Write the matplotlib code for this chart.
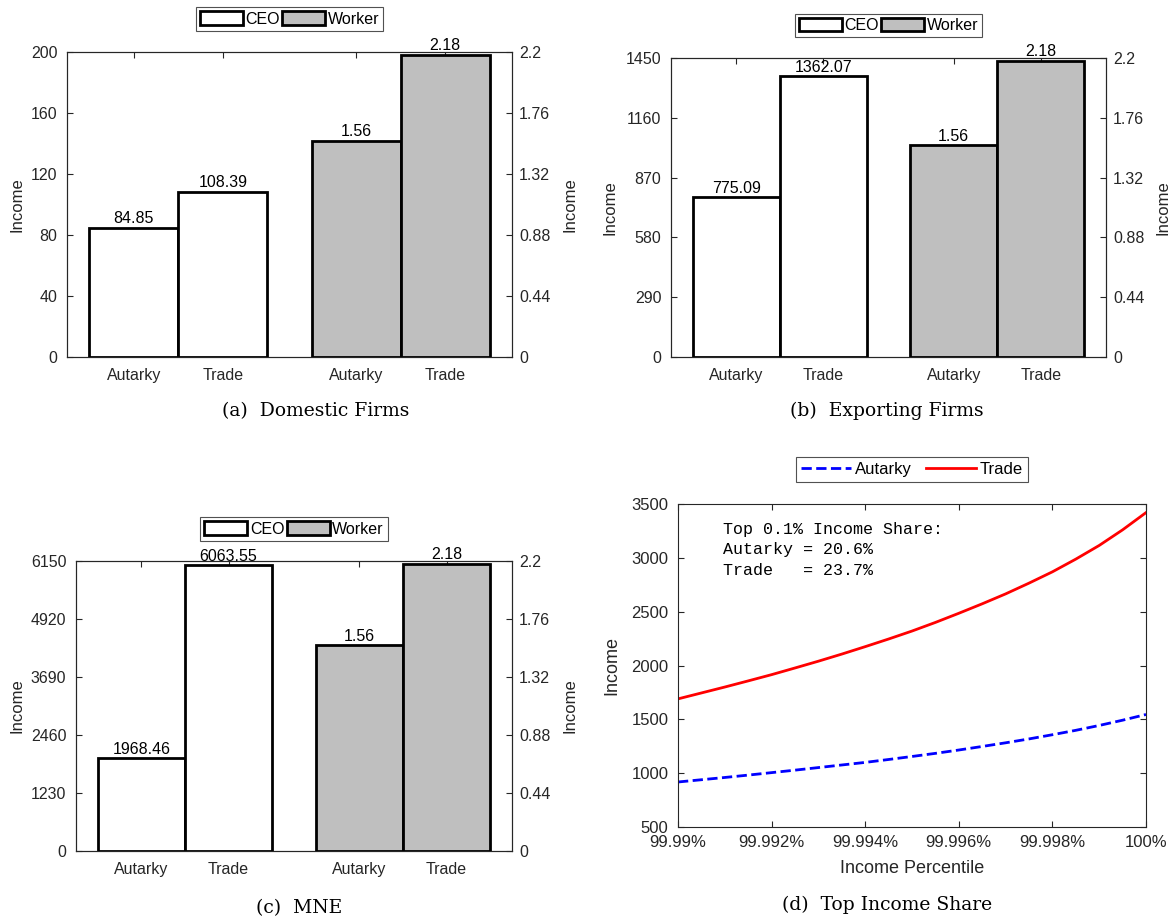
import matplotlib
matplotlib.use("Agg")
import matplotlib.pyplot as plt
from matplotlib.patches import Patch
from matplotlib.ticker import FormatStrFormatter

# ---- data -------------------------------------------------------------
scenarios = ["Autarky", "Trade"]
groups = ["CEO", "Worker"]

ceo_domestic = [84.85, 108.39]
ceo_exporting = [775.09, 1362.07]
ceo_mne = [1968.46, 6063.55]
worker_income = [1.56, 2.18]

ceo_ticks_domestic = [0, 40, 80, 120, 160, 200]
ceo_ticks_exporting = [0, 290, 580, 870, 1160, 1450]
ceo_ticks_mne = [0, 1230, 2460, 3690, 4920, 6150]
worker_ticks = [0, 0.44, 0.88, 1.32, 1.76, 2.2]

captions = ["(a)  Domestic Firms", "(b)  Exporting Firms", "(c)  MNE", "(d)  Top Income Share"]

percentile = [99.9900, 99.9905, 99.9910, 99.9915, 99.9920, 99.9925, 99.9930,
              99.9935, 99.9940, 99.9945, 99.9950, 99.9955, 99.9960, 99.9965,
              99.9970, 99.9975, 99.9980, 99.9985, 99.9990, 99.9995, 100.0000]
income_autarky = [918, 939, 960, 982, 1005, 1028, 1052, 1076, 1100, 1127, 1155,
                  1184, 1215, 1248, 1282, 1318, 1357, 1398, 1443, 1492, 1545]
income_trade = [1690, 1745, 1800, 1857, 1915, 1977, 2040, 2106, 2175, 2246, 2320,
                2400, 2485, 2573, 2665, 2765, 2870, 2988, 3115, 3260, 3420]
line_labels = ["Autarky", "Trade"]

percentile_ticks = [99.990, 99.992, 99.994, 99.996, 99.998, 100.000]
percentile_tick_labels = ["99.99%", "99.992%", "99.994%", "99.996%", "99.998%", "100%"]
income_ticks = [500, 1000, 1500, 2000, 2500, 3000, 3500]

share_note = "Top 0.1% Income Share:\nAutarky = 20.6%\nTrade   = 23.7%"

# ---- style ------------------------------------------------------------
plt.rcParams['font.family'] = ['Liberation Sans', 'DejaVu Sans']
plt.rcParams['font.size'] = 11.5

AX_COLOR = '#262626'
WORKER_GRAY = '#bfbfbf'
CAPTION_FONT = ['DejaVu Serif']
TICK_FS = 11.5

fig = plt.figure(figsize=(11.76, 9.24), dpi=100)

bar_pos_ceo = [1, 2]
bar_pos_worker = [3.5, 4.5]


def style_spines(ax):
    for s in ax.spines.values():
        s.set_color(AX_COLOR)
        s.set_linewidth(0.8)


def bar_panel(rect, ceo_vals, ceo_ticks, caption, caption_xy, ylab_x):
    ax = fig.add_axes(rect)
    ax2 = ax.twinx()

    b1 = ax.bar(bar_pos_ceo, ceo_vals, width=1.0, facecolor='white',
                edgecolor='black', linewidth=2.0, zorder=3)
    b2 = ax2.bar(bar_pos_worker, worker_income, width=1.0, facecolor=WORKER_GRAY,
                 edgecolor='black', linewidth=2.0, zorder=3)
    ax.bar_label(b1, fmt='%.2f', padding=1, fontsize=TICK_FS, color='black')
    ax2.bar_label(b2, fmt='%.2f', padding=1, fontsize=TICK_FS, color='black')

    ax.set_xlim(0.25, 5.25)
    ax.set_ylim(0, ceo_ticks[-1])
    ax2.set_ylim(0, worker_ticks[-1])
    ax.set_xticks(bar_pos_ceo + bar_pos_worker)
    ax.set_xticklabels(scenarios + scenarios)
    ax.set_yticks(ceo_ticks)
    ax2.set_yticks(worker_ticks)
    ax2.yaxis.set_major_formatter(FormatStrFormatter('%g'))

    ax.tick_params(axis='x', direction='in', top=True, bottom=True, length=4,
                   width=0.8, color=AX_COLOR, labelcolor=AX_COLOR, pad=8,
                   labelsize=TICK_FS)
    ax.tick_params(axis='y', direction='in', left=True, right=False, length=4,
                   width=0.8, color=AX_COLOR, labelcolor=AX_COLOR, pad=7,
                   labelsize=TICK_FS)
    ax2.tick_params(axis='y', direction='in', right=True, left=False, length=4,
                    width=0.8, color=AX_COLOR, labelcolor=AX_COLOR, pad=5,
                    labelsize=TICK_FS)
    style_spines(ax)
    style_spines(ax2)

    ax.set_ylabel("Income", fontsize=12, color=AX_COLOR)
    ax2.set_ylabel("Income", fontsize=12, color=AX_COLOR)
    ax.yaxis.set_label_coords(ylab_x[0], 0.5)
    ax2.yaxis.set_label_coords(ylab_x[1], 0.5)
    ax.yaxis.label.set_verticalalignment('center')
    ax2.yaxis.label.set_verticalalignment('center')

    handles = [Patch(facecolor='white', edgecolor='black', linewidth=2.0),
               Patch(facecolor=WORKER_GRAY, edgecolor='black', linewidth=2.0)]
    leg = ax.legend(handles, groups, loc='lower center', bbox_to_anchor=(0.5, 1.07),
                    ncol=2, frameon=True, fancybox=False, edgecolor=AX_COLOR,
                    handlelength=2.7, handleheight=0.95, handletextpad=0.15,
                    columnspacing=0.15, borderpad=0.25, borderaxespad=0.0,
                    fontsize=TICK_FS)
    leg.get_frame().set_linewidth(0.8)

    fig.text(caption_xy[0], caption_xy[1], caption, ha='center', va='center',
             family=CAPTION_FONT, fontsize=13.5)
    return ax, ax2


# (a) domestic firms
bar_panel([67 / 1176, 1 - 357 / 924, 445 / 1176, 305 / 924],
          ceo_domestic, ceo_ticks_domestic, captions[0],
          (316 / 1176, 1 - 411 / 924), (-0.112, 1.130))

# (b) exporting firms
bar_panel([671 / 1176, 1 - 357 / 924, 435 / 1176, 299 / 924],
          ceo_exporting, ceo_ticks_exporting, captions[1],
          (887 / 1176, 1 - 411 / 924), (-0.140, 1.131))

# (c) multinationals
bar_panel([76 / 1176, 1 - 851 / 924, 436 / 1176, 290 / 924],
          ceo_mne, ceo_ticks_mne, captions[2],
          (299 / 1176, 1 - 908 / 924), (-0.135, 1.133))

# (d) top income share
axd = fig.add_axes([678 / 1176, 1 - 827 / 924, 468 / 1176, 323 / 924])
axd.plot(percentile, income_autarky, color='blue', linestyle='--', linewidth=2.0,
         label=line_labels[0])
axd.plot(percentile, income_trade, color='red', linestyle='-', linewidth=2.0,
         label=line_labels[1])
axd.set_xlim(percentile_ticks[0], percentile_ticks[-1])
axd.set_ylim(income_ticks[0], income_ticks[-1])
axd.set_xticks(percentile_ticks)
axd.set_xticklabels(percentile_tick_labels)
axd.set_yticks(income_ticks)
axd.tick_params(axis='both', direction='in', top=True, right=True, length=4,
                width=0.8, color=AX_COLOR, labelcolor=AX_COLOR, labelsize=12)
axd.tick_params(axis='x', pad=6)
axd.tick_params(axis='y', pad=7)
style_spines(axd)
axd.set_xlabel("Income Percentile", fontsize=13, color=AX_COLOR)
axd.set_ylabel("Income", fontsize=13, color=AX_COLOR)
axd.yaxis.set_label_coords(-0.141, 0.5)
axd.yaxis.label.set_verticalalignment('center')
axd.xaxis.set_label_coords(0.5, -0.127)
axd.xaxis.label.set_verticalalignment('center')
legd = axd.legend(loc='lower center', bbox_to_anchor=(0.5, 1.068), ncol=2,
                  frameon=True, fancybox=False, edgecolor=AX_COLOR,
                  handlelength=3.0, handletextpad=0.2, columnspacing=0.9,
                  borderpad=0.3, borderaxespad=0.0, fontsize=12)
legd.get_frame().set_linewidth(0.8)
axd.text(0.097, 0.945, share_note, transform=axd.transAxes, ha='left', va='top',
         family=['Liberation Mono'], fontsize=12, linespacing=1.45, color='black')
fig.text(887 / 1176, 1 - 905 / 924, captions[3], ha='center', va='center',
         family=CAPTION_FONT, fontsize=13.5)

fig.savefig("out.png", dpi=100)
